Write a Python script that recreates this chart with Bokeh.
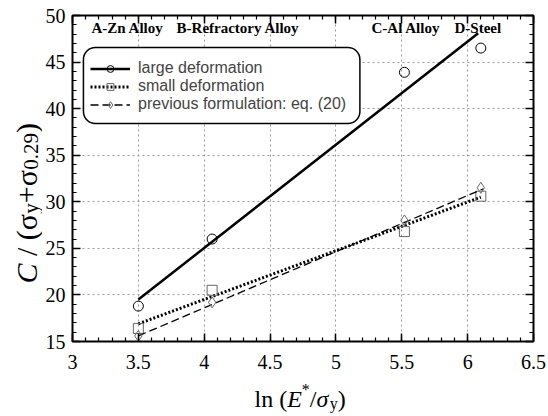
import math
from bokeh.plotting import figure
from bokeh.models import (Range1d, LinearAxis, SingleIntervalTicker, Label,
                          Legend, LegendItem, BoxAnnotation)
from bokeh.layouts import row, column
from bokeh.embed import file_html
from bokeh.resources import INLINE

# ---------------- data ----------------
alloy_x = [3.50, 4.06, 5.52, 6.10]
large_def = [18.8, 26.0, 43.9, 46.5]
small_def = [16.4, 20.5, 26.8, 30.6]
prev_form = [15.6, 19.2, 28.0, 31.5]

large_fit_x = [3.50, 6.08]
large_fit_y = [19.5, 48.1]
small_fit_x = [3.50, 6.10]
small_fit_y = [16.9, 30.5]
prev_fit_x = [3.50, 6.12]
prev_fit_y = [15.6, 31.4]

alloy_names = ["A-Zn Alloy", "B-Refractory Alloy", "C-Al Alloy", "D-Steel"]
alloy_label_x = [3.144, 3.79, 5.27, 5.90]
alloy_label_y = 47.75

series_names = ["large deformation", "small deformation",
                "previous formulation: eq. (20)"]

x_range = (3, 6.5)
y_range = (15, 50)

SERIF = "Liberation Serif"
SANS = "Liberation Sans"

PAGE_W, PAGE_H = 548, 416
YT_W = 42          # width of the y-title strip
MAIN_H = 380       # height of the main figure (x-title strip below it)
FRAME_TOP, FRAME_BOTTOM, FRAME_LEFT = 15, 341, 72

fig = figure(width=PAGE_W - YT_W, height=MAIN_H, x_range=Range1d(*x_range),
             y_range=Range1d(*y_range), output_backend="svg", toolbar_location=None,
             min_border_left=FRAME_LEFT - YT_W, min_border_right=15,
             min_border_top=FRAME_TOP, min_border_bottom=MAIN_H - FRAME_BOTTOM)
fig.background_fill_color = "white"
fig.border_fill_color = "white"
fig.outline_line_color = "black"
fig.outline_line_width = 2

xt = SingleIntervalTicker(interval=0.5, num_minor_ticks=5)
yt = SingleIntervalTicker(interval=5, num_minor_ticks=5)

fig.xaxis.ticker = xt
fig.yaxis.ticker = yt
fig.xgrid.ticker = xt
fig.ygrid.ticker = yt

for g in (fig.xgrid, fig.ygrid):
    g.grid_line_color = "#9a9a9a"
    g.grid_line_dash = "2 3"
    g.grid_line_width = 1

def style_axis(ax, show_labels, standoff):
    ax.axis_line_color = None
    ax.major_tick_in = 8
    ax.major_tick_out = 0
    ax.minor_tick_in = 4
    ax.minor_tick_out = 0
    ax.major_tick_line_width = 1.5
    ax.minor_tick_line_width = 1.2
    ax.major_tick_line_color = "black"
    ax.minor_tick_line_color = "black"
    if show_labels:
        ax.major_label_text_font = SERIF
        ax.major_label_text_font_size = "20px"
        ax.major_label_text_color = "black"
        ax.major_label_standoff = standoff
    else:
        ax.major_label_text_font_size = "1px"
        ax.major_label_text_alpha = 0
        ax.major_label_standoff = 0

style_axis(fig.xaxis[0], True, 13)
style_axis(fig.yaxis[0], True, 7)

top_ax = LinearAxis(ticker=xt)
right_ax = LinearAxis(ticker=yt)
style_axis(top_ax, False, 0)
style_axis(right_ax, False, 0)
fig.add_layout(top_ax, "above")
fig.add_layout(right_ax, "right")

# legend rounded box
box = BoxAnnotation(left=3.083, right=5.182, top=46.56, bottom=38.4,
                    fill_color="white", fill_alpha=1, line_color="black", line_alpha=1,
                    line_width=1.5, border_radius=12, level="underlay")
fig.add_layout(box)

# ---------------- series ----------------
l1 = fig.line(large_fit_x, large_fit_y, line_color="black", line_width=2.5)
s1 = fig.scatter(alloy_x, large_def, marker="circle", size=10, fill_color=None,
                 line_color="black", line_width=1)
l2 = fig.line(small_fit_x, small_fit_y, line_color="black", line_width=3, line_dash="2 2")
s2 = fig.scatter(alloy_x, small_def, marker="square", size=10, fill_color=None,
                 line_color="#666666", line_width=1)
l3 = fig.line(prev_fit_x, prev_fit_y, line_color="black", line_width=1.3, line_dash="8 4")
s3 = fig.scatter(alloy_x, prev_form, marker="diamond", size=11, fill_color=None,
                 line_color="#666666", line_width=1)

legend = Legend(items=[LegendItem(label=series_names[0], renderers=[l1, s1]),
                       LegendItem(label=series_names[1], renderers=[l2, s2]),
                       LegendItem(label=series_names[2], renderers=[l3, s3])],
                location=(18, 228), padding=0, margin=0, spacing=0,
                glyph_width=40, glyph_height=17, label_height=17, label_standoff=8,
                label_text_font=SANS, label_text_font_size="16px",
                background_fill_alpha=0, border_line_color=None)
fig.add_layout(legend)

for name, lx in zip(alloy_names, alloy_label_x):
    fig.add_layout(Label(x=lx, y=alloy_label_y, text=name, text_font=SERIF,
                         text_font_size="15px", text_font_style="bold",
                         text_color="black"))

# ---------------- axis titles: strips of their own, composite real text ----------------
def blank_strip(w, h):
    f = figure(width=w, height=h, x_range=Range1d(0, 1), y_range=Range1d(0, 1),
               output_backend="svg", toolbar_location=None,
               x_axis_location=None, y_axis_location=None, min_border=0)
    f.grid.visible = False
    f.outline_line_color = None
    f.background_fill_color = "white"
    f.border_fill_color = "white"
    return f

ytitle_fig = blank_strip(YT_W, MAIN_H)
xtitle_fig = blank_strip(PAGE_W, PAGE_H - MAIN_H)

W = {' ': .25, '/': .278, '(': .333, ')': .333, '+': .564, '.': .25, 'C': .667,
     'y': .5, 'l': .278, 'n': .5, 'E': .611, '*': .5, 'σ': .55}
for d in "0123456789":
    W[d] = .5

def width(s, size):
    return sum(W.get(c, .5) for c in s) * size

def composite(target, segments, x0, y0, rotated):
    pos = 0.0
    for text, size, style, shift in segments:
        if text.strip() == "":
            pos += width(text, size)
            continue
        if rotated:
            lab = Label(x=x0 + shift, y=y0 + pos, x_units="screen", y_units="screen",
                        angle=math.pi / 2, text=text)
        else:
            lab = Label(x=x0 + pos, y=y0 - shift, x_units="screen", y_units="screen",
                        text=text)
        lab.text_font = SERIF
        lab.text_font_size = f"{size}px"
        lab.text_font_style = style
        lab.text_color = "black"
        lab.text_align = "left"
        lab.text_baseline = "alphabetic"
        target.add_layout(lab)
        pos += width(text, size)

y_title = [("C", 30, "italic", 0), (" ", 30, "normal", 0), ("/", 30, "normal", 0),
           (" ", 30, "normal", 0), ("(", 30, "normal", 0), ("σ", 30, "normal", 0),
           ("y", 21, "normal", 4), ("+", 30, "normal", 0), ("σ", 30, "normal", 0),
           ("0.29", 21, "normal", 4), (")", 30, "normal", 0)]
x_title = [("ln", 24, "normal", 0), (" ", 24, "normal", 0), ("(", 24, "normal", 0),
           ("E", 24, "italic", 0), ("*", 16, "normal", -9),
           ("/", 24, "normal", 0), ("σ", 24, "italic", 0), ("y", 16, "normal", 5),
           (")", 24, "normal", 0)]

# the y-title strip's frame is aligned with the main frame (page y 15..341)
composite(ytitle_fig, y_title, 26, FRAME_BOTTOM - 283, True)
composite(xtitle_fig, x_title, 254, 18, False)

p = column(row(ytitle_fig, fig, spacing=0), xtitle_fig, spacing=0)

open("out.html", "w").write(file_html(p, INLINE))
